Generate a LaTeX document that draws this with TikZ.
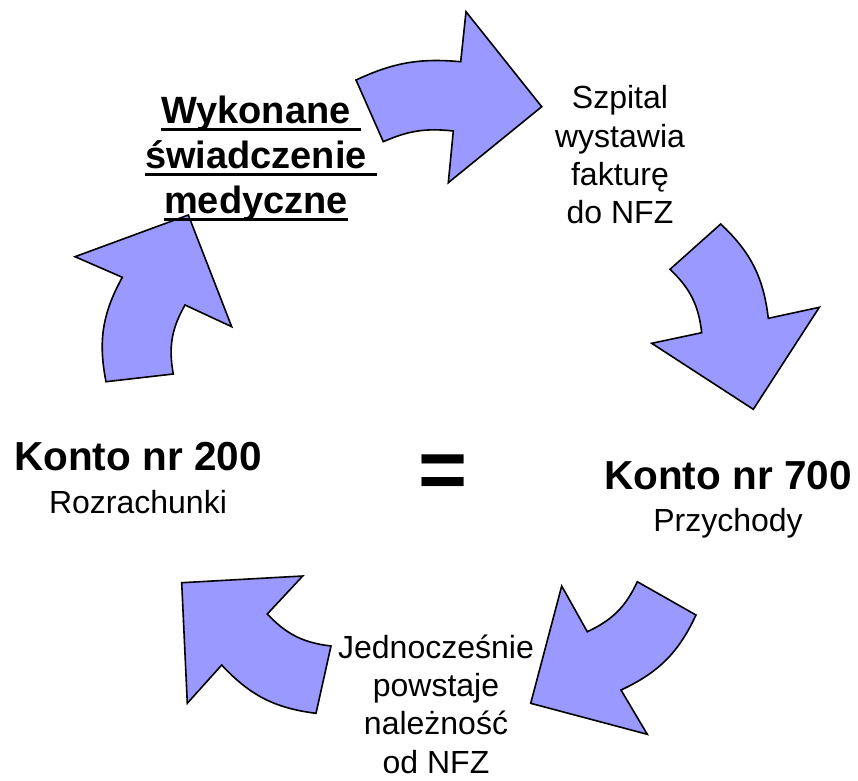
\documentclass[tikz,border=0pt]{standalone}
\usepackage{fontspec}
\setmainfont{Liberation Sans}
\usetikzlibrary{positioning}
\definecolor{arrowblue}{HTML}{9999FF}
\newlength\ulwd
\newcommand\ulined[1]{\settowidth\ulwd{#1}\rlap{\rule[-7pt]{\ulwd}{3pt}}#1}
\newcommand\kontofont{\fontsize{40.5}{42}\selectfont\bfseries}
\tikzset{bigarrow/.style={draw=black, line width=1.6pt, fill=arrowblue, line join=miter},
boldtxt/.style={inner sep=0pt, align=center, font=\fontsize{38}{45}\selectfont\bfseries},
plaintxt/.style={inner sep=0pt, align=center, font=\fontsize{32}{38.3}\selectfont}
}

\begin{document}
\begin{tikzpicture}[x=1pt, y=-1pt]
       \useasboundingbox (0,0) rectangle (858,780);

       % curved block arrows, clockwise
       \draw[bigarrow] (356,80) to[bend left=15] (460.7,61.7) -- (466,11.7) -- (541.7,106.7)
           -- (448.3,182.7) -- (453.3,131) to[bend right=15] (383.3,141.7) -- cycle;
       \draw[bigarrow] (670,269.3) to[bend left=20] (701.7,332.7) -- (651.7,343.3) -- (753.3,409.3)
           -- (819.3,307.3) -- (768.3,318.3) to[bend right=20] (720.7,224) -- cycle;
       \draw[bigarrow] (587.3,631.7) to[bend right=20] (637.3,581.7) -- (696,615) to[bend left=20] (621,690)
           -- (647.3,734.3) -- (530.7,703.3) -- (561.7,586) -- cycle;
       \draw[bigarrow] (181.7,582.7) -- (302.7,576) -- (267.3,614) to[bend right=20] (331,646)
           -- (316,713.3) to[bend left=20] (221.7,665) -- (187.3,703.3) -- cycle;
       \draw[bigarrow] (106,381.7) to[bend left=20] (122.3,277.3) -- (75,256.7) -- (188.3,215)
           -- (231.7,326.7) -- (185,305) to[bend right=20] (173.3,374) -- cycle;

       % texts
       \node[boldtxt] (wykonane) at (256,159)
           {\ulined{Wykonane\ }\\ \ulined{świadczenie\ }\\ \ulined{medyczne}};
       \node[plaintxt] (faktura) at (620,155) {Szpital\\ wystawia\\ fakturę\\ do NFZ};
       \node[plaintxt] (naleznosc) at (436,704) {Jednocześnie\\ powstaje\\ należność\\ od NFZ};
       \node[plaintxt] (konto200) at (138,478) {{\kontofont Konto nr 200}\\[4pt] Rozrachunki};
       \node[plaintxt] (konto700) at (728,500) {{\kontofont Konto nr 700}\\[4pt] Przychody};
       \node[inner sep=0pt, font=\fontsize{84}{84}\selectfont\bfseries] (equals) at (442.7,477) {=};
\end{tikzpicture}
\end{document}
